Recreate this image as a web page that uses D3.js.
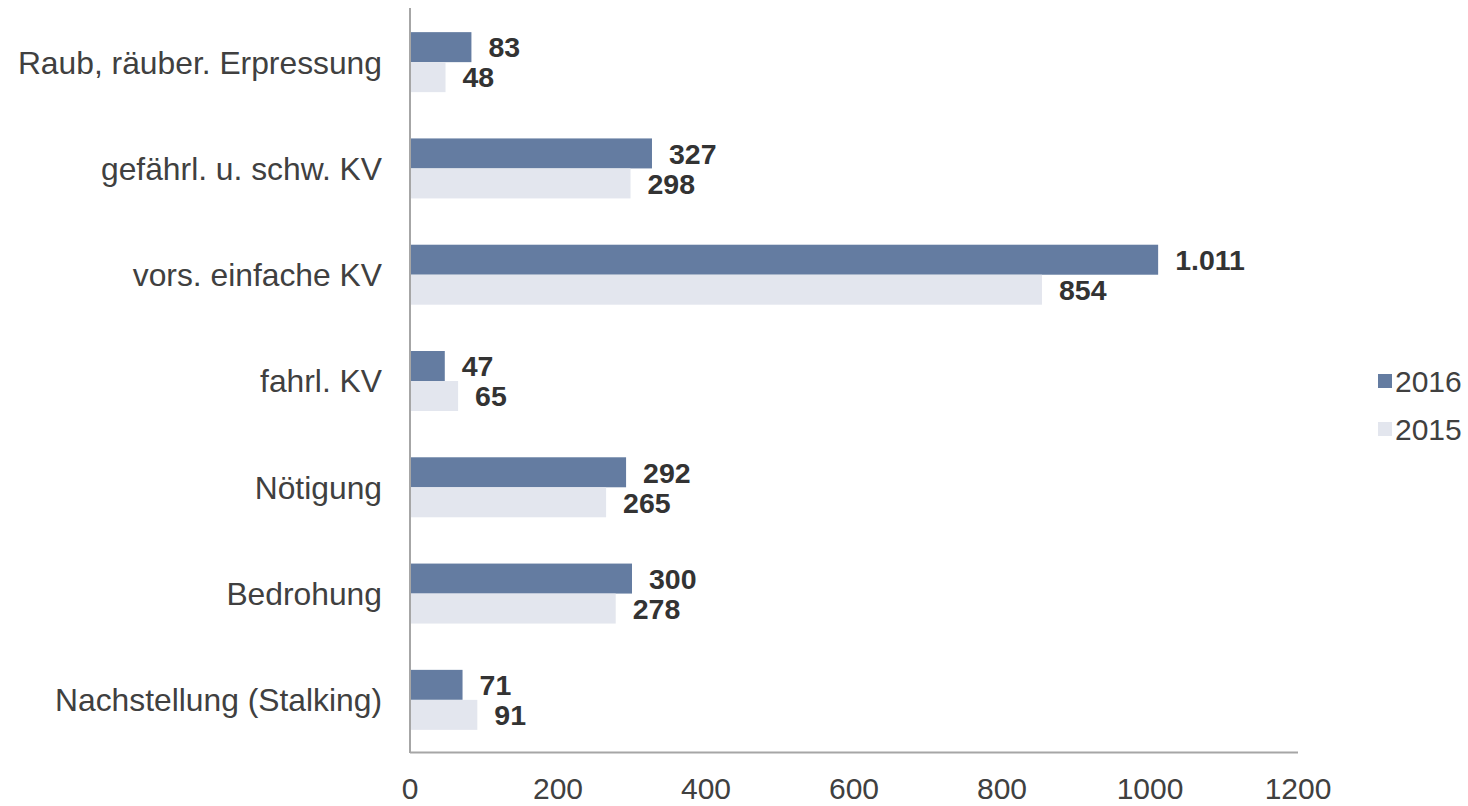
<!DOCTYPE html>
<html>
<head>
<meta charset="utf-8">
<script src="https://cdn.jsdelivr.net/npm/d3@7"></script>
<style>
  body { margin: 0; background: #fff; }
  text { font-family: "Liberation Sans", Arial, sans-serif; }
</style>
</head>
<body>
<div id="chart"></div>
<script>
var categories = ["Raub, räuber. Erpressung", "gefährl. u. schw. KV", "vors. einfache KV", "fahrl. KV", "Nötigung", "Bedrohung", "Nachstellung (Stalking)"];
var values2016 = [83, 327, 1011, 47, 292, 300, 71];
var values2015 = [48, 298, 854, 65, 265, 278, 91];
var seriesNames = ["2016", "2015"];
var xTicks = [0, 200, 400, 600, 800, 1000, 1200];

var colors = { "2016": "#647ca1", "2015": "#e3e6ee" };

var width = 1468, height = 806;
var svg = d3.select("#chart").append("svg").attr("width", width).attr("height", height);

var x = d3.scaleLinear().domain([0, 1200]).range([410, 1298]);
var y = d3.scaleBand().domain(categories).range([8, 752]);
var sub = d3.scaleBand().domain(seriesNames).range([0, 60]);

var fmt = function(v) { return d3.format(",")(v).replace(/,/g, "."); };

var rows = categories.map(function(c, i) {
  return { cat: c, vals: [{ s: "2016", v: values2016[i] }, { s: "2015", v: values2015[i] }] };
});

var g = svg.selectAll("g.row").data(rows).enter().append("g")
  .attr("class", "row")
  .attr("transform", function(d) { return "translate(0," + (y(d.cat) + y.bandwidth() / 2 - 30 + 1) + ")"; });

g.selectAll("rect").data(function(d) { return d.vals; }).enter().append("rect")
  .attr("x", x(0))
  .attr("y", function(d) { return sub(d.s); })
  .attr("width", function(d) { return x(d.v) - x(0); })
  .attr("height", sub.bandwidth())
  .attr("fill", function(d) { return colors[d.s]; });

g.selectAll("text.val").data(function(d) { return d.vals; }).enter().append("text")
  .attr("class", "val")
  .attr("x", function(d) { return x(d.v) + 17; })
  .attr("y", function(d) { return sub(d.s) + sub.bandwidth() / 2; })
  .attr("dy", "0.36em")
  .attr("font-size", 28.5)
  .attr("font-weight", "bold")
  .attr("fill", "#333")
  .text(function(d) { return fmt(d.v); });

// category labels
svg.selectAll("text.cat").data(categories).enter().append("text")
  .attr("class", "cat")
  .attr("x", 382)
  .attr("y", function(d) { return y(d) + y.bandwidth() / 2 + 1; })
  .attr("dy", "0.36em")
  .attr("text-anchor", "end")
  .attr("font-size", 31.8)
  .attr("fill", "#404040")
  .text(function(d) { return d; });

// axes lines
svg.append("line").attr("x1", 410).attr("x2", 410).attr("y1", 8).attr("y2", 753)
  .attr("stroke", "#a6a6a6").attr("stroke-width", 2);
svg.append("line").attr("x1", 410).attr("x2", x(1200)).attr("y1", 752.5).attr("y2", 752.5)
  .attr("stroke", "#a6a6a6").attr("stroke-width", 2);

// tick labels (kept just inside the bottom edge)
svg.selectAll("text.tick").data(xTicks).enter().append("text")
  .attr("class", "tick")
  .attr("x", function(d) { return x(d); })
  .attr("y", 799)
  .attr("font-size", 30)
  .attr("text-anchor", "middle")
  .attr("fill", "#404040")
  .text(function(d) { return d; });

// legend
var leg = svg.selectAll("g.leg").data(seriesNames).enter().append("g")
  .attr("class", "leg")
  .attr("transform", function(d, i) { return "translate(1378," + (381 + i * 48) + ")"; });
leg.append("rect").attr("x", 0).attr("y", -7).attr("width", 14).attr("height", 14)
  .attr("fill", function(d) { return colors[d]; });
leg.append("text").attr("x", 17).attr("y", 0).attr("dy", "0.36em")
  .attr("font-size", 30).attr("fill", "#404040")
  .text(function(d) { return d; });
</script>
</body>
</html>
